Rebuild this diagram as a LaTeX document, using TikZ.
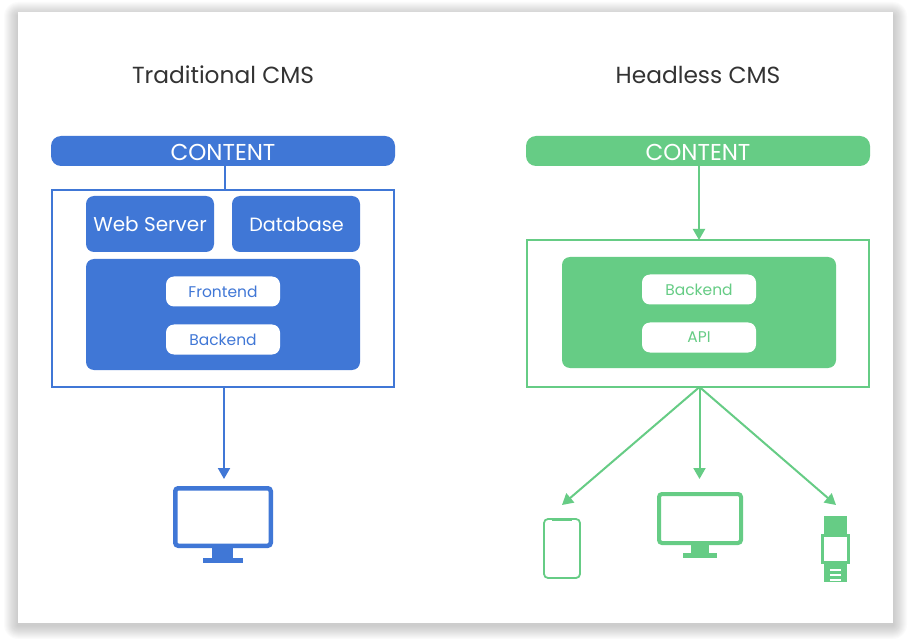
\documentclass[tikz,border=0pt]{standalone}
\usepackage{fontspec}
\setmainfont{Poppins}
\usetikzlibrary{arrows.meta}
\definecolor{cmsblue}{HTML}{4077D6}
\definecolor{cmsgreen}{HTML}{66CC85}
\tikzset{
  solidbox/.style={fill=#1,rounded corners=8pt,inner sep=0pt,outer sep=0pt,text=white},
  whitepill/.style={fill=white,rounded corners=8pt,minimum width=114pt,minimum height=30pt,inner sep=0pt,outer sep=0pt,text=#1,font=\fontsize{15.5}{18}\selectfont},
  framebox/.style={draw=#1,line width=2pt,inner sep=0pt,outer sep=0pt},
  screenbox/.style={draw=#1,fill=white,rounded corners=3pt,inner sep=0pt,outer sep=0pt},
  part/.style={fill=#1,inner sep=0pt,outer sep=0pt},
  heading/.style={text=black!80,font=\fontsize{23.3}{28}\selectfont,inner sep=0pt},
  flow/.style={#1,line width=2pt,-{Triangle[width=12pt,length=11pt]}}
}
\begin{document}
\begin{tikzpicture}[x=1pt,y=-1pt]
\useasboundingbox (0,0) rectangle (911,639);

% card and its shadow
\foreach \s in {1,2,...,14}
	\fill[black,opacity=0.016,rounded corners=\s pt] (18-\s,12-\s+4) rectangle (893+\s,623+\s+2);
\node[fill=white,inner sep=0pt,minimum width=875pt,minimum height=611pt] (card) at (455.5,317.5) {};

\node[heading] (titleL) at (223,75) {Traditional CMS};
\node[heading] (titleR) at (698,75) {Headless CMS};

% traditional
\node[solidbox=cmsblue,minimum width=344pt,minimum height=30pt,rounded corners=10pt] (contentL) at (223,151) {};
\node[text=white,inner sep=0pt,font=\fontsize{23}{25}\selectfont] (labelL) at (223,152) {CONTENT};
\node[framebox=cmsblue,minimum width=342pt,minimum height=197pt] (boxL) at (223,288.5) {};
\node[solidbox=cmsblue,minimum width=128pt,minimum height=56pt] (web) at (150,224) {};
\node[text=white,inner sep=0pt,font=\fontsize{20}{23}\selectfont] (weblabel) at (150,224) {Web Server};
\node[solidbox=cmsblue,minimum width=128pt,minimum height=56pt] (db) at (296,224) {};
\node[text=white,inner sep=0pt,font=\fontsize{19.2}{23}\selectfont] (dblabel) at (296.5,224) {Database};
\node[solidbox=cmsblue,minimum width=274pt,minimum height=111pt] (stackL) at (223,314.5) {};
\node[whitepill=cmsblue] (front) at (223,291.5) {Frontend};
\node[whitepill=cmsblue] (backL) at (223,339.5) {Backend};

\node[screenbox=cmsblue,line width=4.5pt,minimum width=95.5pt,minimum height=57.5pt] (monL) at (223,517) {};
\node[part=cmsblue,minimum width=21pt,minimum height=12pt] (standL) at (222.5,553) {};
\node[part=cmsblue,minimum width=40pt,minimum height=5pt] (baseL) at (223,560.5) {};
\coordinate (topL) at (225,166);
\coordinate (joinL) at (225,190);
\coordinate (tipL) at (224,479);
\coordinate (startL) at (224,387);

% headless
\node[solidbox=cmsgreen,minimum width=344pt,minimum height=30pt,rounded corners=10pt] (contentR) at (698,151) {};
\node[text=white,inner sep=0pt,font=\fontsize{23}{25}\selectfont] (labelR) at (698,152) {CONTENT};
\node[framebox=cmsgreen,minimum width=342pt,minimum height=147pt] (boxR) at (698,313.5) {};
\node[solidbox=cmsgreen,minimum width=274pt,minimum height=111pt] (stackR) at (699,312.5) {};
\node[whitepill=cmsgreen] (backR) at (699,289.5) {Backend};
\node[whitepill=cmsgreen] (api) at (699,337.5) {API};

\node[screenbox=cmsgreen,line width=1.8pt,minimum width=36pt,minimum height=59pt,rounded corners=4pt] (phone) at (562,548.5) {};
\node[part=cmsgreen,minimum width=20pt,minimum height=2pt] (notch) at (562,520) {};
\node[screenbox=cmsgreen,line width=4pt,minimum width=82pt,minimum height=49pt] (monR) at (700,518.5) {};
\node[part=cmsgreen,minimum width=18pt,minimum height=9pt] (standR) at (700,549) {};
\node[part=cmsgreen,minimum width=34pt,minimum height=5pt] (baseR) at (700,555.5) {};
\node[part=cmsgreen,minimum width=23pt,minimum height=66pt] (strap) at (835.5,549) {};
\node[screenbox=cmsgreen,line width=3pt,rounded corners=0pt,minimum width=26pt,minimum height=27pt] (watch) at (835.5,549) {};
\foreach \y in {570,575,580}
	\node[part=white,minimum width=11pt,minimum height=2pt] (slot\y) at (835.5,\y) {};

\coordinate (startR) at (699,166);
\coordinate (endR) at (699,240);
\coordinate (fork) at (699.5,387);
\coordinate (tipphone) at (562,505);
\coordinate (tipmon) at (699.5,479);
\coordinate (tipwatch) at (836,505);

\draw[cmsblue,line width=2pt] (topL) -- (joinL);
\draw[flow=cmsblue] (startL) -- (tipL);
\draw[flow=cmsgreen] (startR) -- (endR);
\foreach \to in {tipphone,tipmon,tipwatch}
	\draw[flow=cmsgreen] (fork) -- (\to);

\end{tikzpicture}
\end{document}
